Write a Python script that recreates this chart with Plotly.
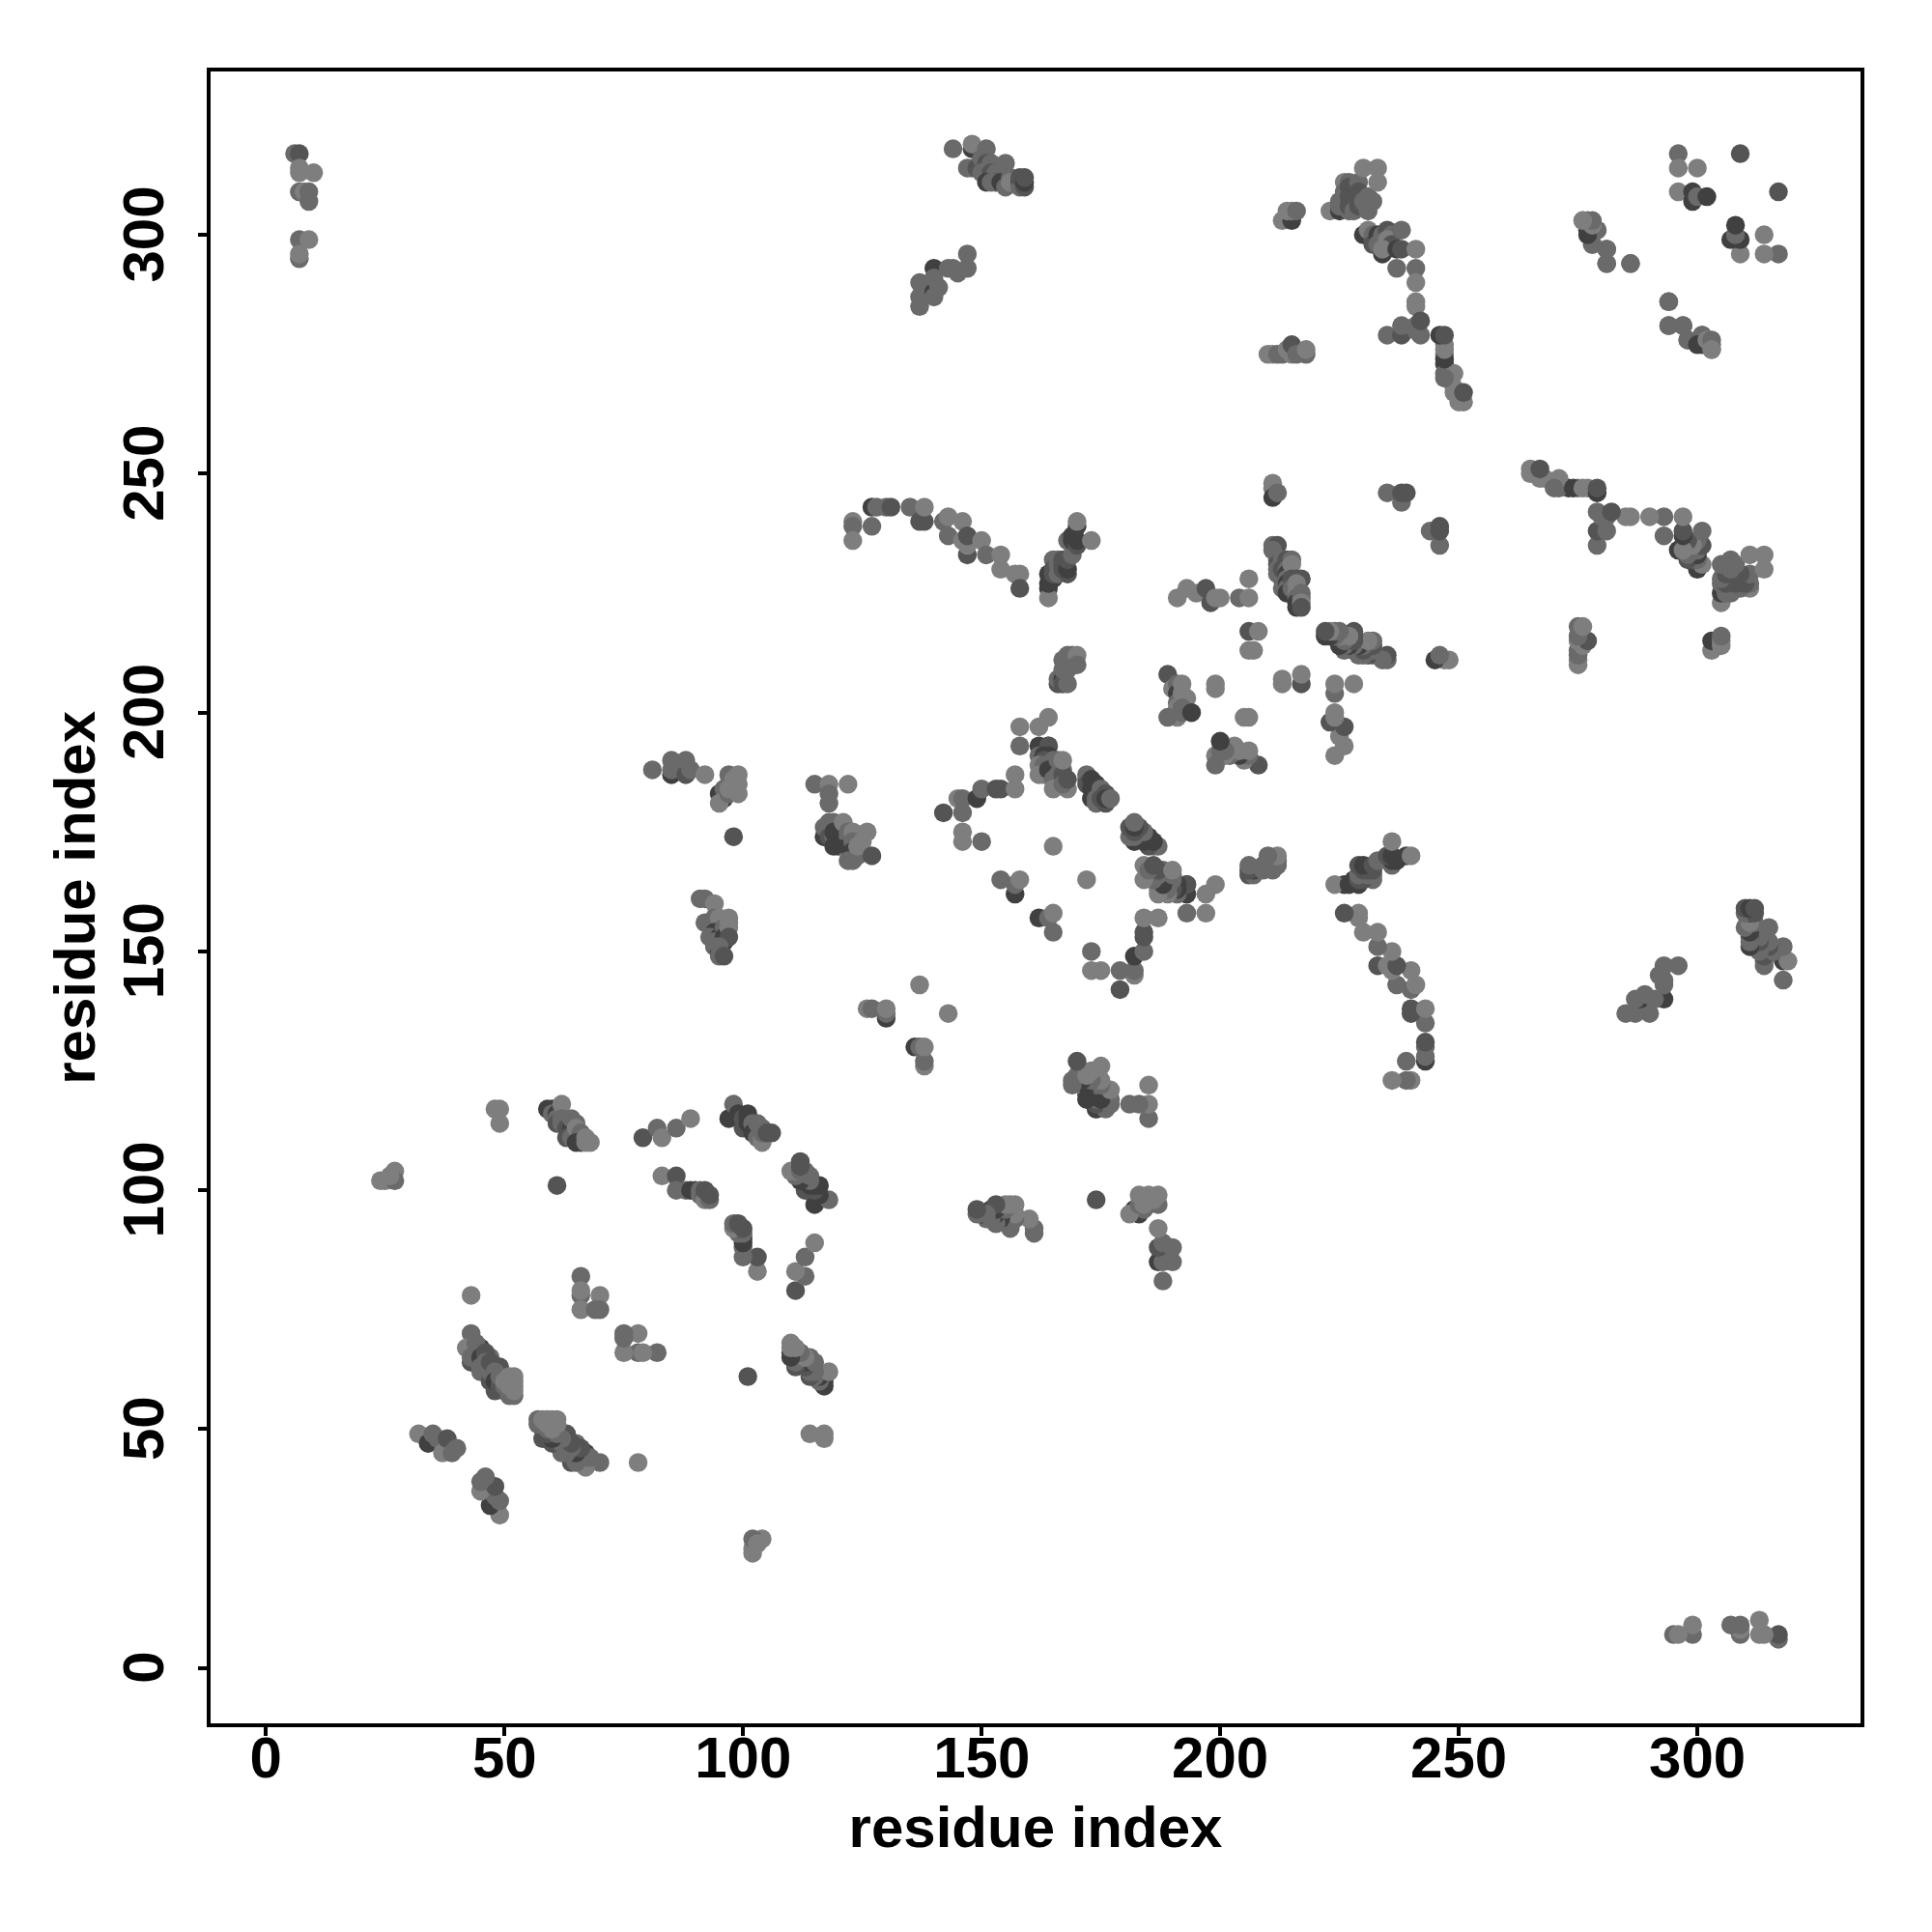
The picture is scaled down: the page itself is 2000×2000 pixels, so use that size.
import plotly.graph_objects as go

# Contacts: (residue i, residue j, grey level), i < j. The map is symmetric.
L, M, D, K = 126, 106, 84, 64

contacts_nterm = [
    (6,317,M),(7,317,D),(7,313,L),(7,314,L),(10,313,L),(7,309,M),(8,309,L),(9,307,M),(9,309,M),
    (7,299,M),(9,299,L),(7,295,M),(7,296,L),
    (24,102,L),(25,102,L),(27,104,L),(27,102,M),(26,103,L),
    (32,49,L),(34,47,K),(35,49,M),(36,48,M),(37,45,L),(38,48,D),(39,45,M),(40,46,M),
    (43,70,M),(42,67,L),(45,67,K),(44,66,M),(47,65,M),(43,64,D),(45,62,M),(49,63,D),(47,60,D),(48,58,D),
    (43,65,M),(44,68,M),(45,65,K),(45,63,M),(46,66,D),(46,64,M),(47,62,M),(47,64,D),(48,62,M),(48,60,K),
    (49,59,D),(49,61,M),(50,58,D),(50,59,M),(51,57,M),(52,57,M),(51,58,M),(52,58,L),(52,59,L),(51,60,L),
    (52,60,L),(50,60,L),(51,61,L),(52,61,L),(51,59,L),
    (43,78,L),(48,117,L),(49,117,L),(49,114,L),
    (59,117,K),(60,117,K),(60,116,M),(61,116,K),(61,115,M),(62,118,L),(61,114,D),(62,115,M),(62,114,M),
    (63,113,D),(64,113,K),(64,115,M),(63,111,D),(64,111,M),(65,114,M),(65,113,L),(66,112,M),(66,111,M),
    (65,110,K),(66,110,K),(67,111,L),(67,110,L),(68,110,L),(61,101,D),
    (66,82,M),(66,78,M),(66,79,L),(70,78,L),(66,75,L),(69,75,M),(70,75,M),
]
contacts_mid_a = [
    (79,111,D),(82,113,M),(83,111,L),(86,113,M),(89,115,L),
    (83,103,L),(86,103,D),(86,100,M),(88,100,M),(89,100,K),(90,100,K),(91,100,M),(91,99,M),(92,99,D),
    (92,98,L),(92,100,D),(93,98,M),(93,99,D),
    (81,188,M),(85,187,K),(85,190,M),(85,188,M),(88,187,D),(88,190,M),(89,188,M),(92,187,L),
    (95,183,K),(96,183,K),(96,182,K),(96,184,M),(95,181,L),(97,187,M),(97,185,M),(97,183,M),(97,184,L),
    (98,186,L),(98,184,L),(99,187,L),(99,185,L),(99,183,L),
    (98,174,D),
    (91,161,M),(92,161,M),(94,160,L),(92,156,M),(94,157,M),(95,157,L),(94,154,K),(93,153,M),(95,153,K),
    (96,155,M),(94,152,M),(96,153,K),(96,152,K),(97,157,L),(97,156,L),(97,155,L),(97,153,D),(94,151,M),
    (95,150,K),(95,151,M),(95,149,M),(96,149,D),
    (97,115,K),(98,118,M),(99,116,K),(99,115,K),(100,115,D),(100,113,D),(101,116,K),(101,115,K),(101,114,K),
    (102,114,M),(102,112,K),(103,113,K),(103,111,M),(104,110,L),(104,111,L),(103,114,M),(104,113,M),
    (104,112,M),(105,112,D),(106,112,D),
]
contacts_mid_b = [
    (115,185,M),(118,185,L),(122,185,L),(118,183,M),(118,181,M),
    (117,174,L),(117,174,K),(117,176,M),(118,174,D),(118,177,M),(119,177,M),(119,174,M),(119,175,K),
    (120,175,K),(120,172,K),(121,172,M),(121,173,K),(121,177,L),(122,174,M),(122,172,K),(122,175,M),
    (123,175,L),(123,173,M),(123,170,K),(123,171,K),(122,169,M),(123,169,M),(124,170,M),(125,171,M),
    (124,172,L),(125,173,L),(126,175,L),(127,170,D),(119,172,K),
    (126,138,L),(127,138,M),(130,136,K),(130,137,M),(130,138,L),(137,143,L),
    (123,240,L),(123,239,M),(123,236,L),(127,239,M),(127,243,K),(128,243,M),(130,243,M),(131,243,D),
    (135,243,M),(137,240,D),(138,240,D),(138,243,L),(142,240,M),(143,241,L),(143,237,M),(146,240,L),
    (147,233,D),(147,235,L),(146,236,L),(147,237,D),(150,236,L),(151,233,M),(154,233,L),(154,230,L),
    (157,229,L),(158,229,L),(158,226,D),
    (137,290,M),(137,287,M),(137,285,M),(140,293,K),(140,288,K),(140,291,M),(140,287,M),(141,289,M),
    (143,293,M),(144,293,M),(145,292,M),(147,293,M),(147,296,M),
    (144,318,M),(148,318,K),(148,319,L),(151,318,M),(147,314,M),(148,314,M),(149,314,D),(150,316,M),
    (151,315,D),(152,315,M),(155,315,M),(150,313,M),(152,313,D),(153,313,M),(153,311,D),
    (151,311,K),(152,311,M),(154,311,K),(155,310,M),(156,312,M),(156,311,L),(157,311,L),(158,311,K),
    (158,310,M),(158,312,D),(159,310,D),(159,311,K),(159,312,D),
]
contacts_mid_c = [
    (142,179,D),(145,182,L),(146,182,M),(146,179,M),(149,182,K),(150,184,M),(153,184,D),(154,184,D),
    (157,184,L),(157,187,L),(146,175,L),(146,173,L),(150,173,M),
    (154,165,M),(157,162,K),(157,164,M),(158,165,L),(165,172,L),
    (158,197,L),(158,193,M),(162,197,L),(164,199,L),(162,193,K),(162,191,M),(164,193,K),(164,193,D),
    (163,191,K),(164,191,K),(163,190,D),(162,189,L),(163,189,M),(165,190,M),(162,187,L),(163,187,L),
    (164,189,M),(164,188,K),(165,188,K),(166,188,K),(166,186,K),(166,187,M),(167,188,M),(165,186,M),
    (165,184,L),(168,184,L),(166,190,M),(167,187,D),(167,185,M),(167,190,L),(168,186,D),
    (172,187,M),(172,186,M),(172,185,D),(173,186,K),(173,184,K),(174,185,K),(174,183,K),(173,182,K),
    (174,182,M),(175,184,M),(174,181,M),(175,182,D),(176,183,D),(176,181,D),(176,182,K),(177,182,M),
    (164,226,K),(164,224,L),(164,227,K),(164,229,K),(165,228,K),(165,232,M),(165,230,D),(165,229,D),
    (166,232,M),(166,231,M),(166,229,M),(167,231,D),(167,230,D),(167,232,D),(168,229,D),(168,230,K),
    (168,232,D),(169,233,M),(168,236,M),(169,235,M),(169,236,K),(169,237,K),(170,235,D),(170,236,K),
    (170,239,K),(170,240,L),(173,236,L),
    (166,206,D),(166,207,M),(167,207,K),(167,206,D),(168,206,M),(168,209,M),(167,209,M),(167,211,M),
    (168,212,M),(169,212,M),(170,212,L),(170,210,M),
    (189,208,D),(190,205,L),(191,206,M),(191,204,K),(191,202,M),(192,204,L),(192,206,L),(193,203,L),
    (191,201,L),(191,199,L),(192,201,M),(192,200,M),(194,200,K),
    (199,206,L),(199,205,L),(189,199,M),
]
contacts_cterm = [
    (191,224,L),(193,226,L),(195,225,L),(197,226,D),(198,223,D),(199,224,L),(200,224,L),
    (204,224,M),(206,224,L),(206,228,L),(206,217,D),(208,217,L),(206,213,L),(207,213,L),
    (211,248,L),(211,247,L),(211,245,K),(212,246,M),(235,246,M),(238,244,M),(238,246,D),(239,246,D),
    (211,235,M),(212,235,D),(211,234,M),(212,232,M),(212,231,D),(212,230,M),(213,232,M),(213,229,M),
    (213,228,K),(212,229,M),(213,230,D),(213,226,M),(214,232,D),(214,230,M),(214,229,K),(214,228,M),
    (214,227,K),(214,226,M),(214,225,K),(215,232,M),(215,231,L),(215,228,D),(215,226,M),
    (216,228,D),(217,228,D),(216,227,L),(216,225,L),(216,224,M),(216,223,K),(216,222,K),(217,225,M),
    (217,224,M),(217,223,L),(217,222,D),
    (210,275,L),(211,275,L),(212,275,M),(213,275,M),(214,276,L),(215,275,L),(215,277,D),(216,275,M),
    (218,275,M),(218,276,L),
    (213,303,L),(215,303,K),(214,305,L),(215,305,L),(216,305,M),
    (223,305,L),(225,305,K),(225,307,M),(225,306,M),(227,305,M),(226,311,L),
    (226,309,M),(227,311,M),(227,310,D),(227,308,D),(227,306,D),(228,310,D),(228,308,D),
    (228,305,M),(229,311,M),(229,309,D),(229,307,D),(229,306,D),(230,307,M),(232,307,M),
    (231,305,M),(231,308,M),(230,314,L),(233,314,L),(233,311,L),
    (230,300,K),(231,301,L),(232,299,D),(232,300,M),(232,298,D),(233,300,K),(233,298,M),(234,300,M),
    (235,301,D),(236,300,M),(235,299,L),(235,297,M),(236,298,D),(238,301,M),(234,296,K),(234,297,L),
    (237,297,K),(238,297,D),(241,297,L),(237,293,M),(241,293,M),(241,290,L),(241,286,L),(241,285,L),
    (235,279,M),(238,279,D),(238,281,M),(242,279,M),(241,281,M),(241,280,M),(242,282,D),
    (247,277,L),(247,275,L),(247,273,K),(247,271,M),(249,271,L),(249,268,L),
    (250,265,L),(251,265,L),(249,267,L),(248,270,L),(247,270,M),(251,267,D),
    (247,274,K),(247,276,L),(246,279,K),(247,279,D),
]
contacts_far = [
    (276,303,L),(277,303,M),(277,301,K),(279,301,M),(278,298,M),(281,297,M),(281,294,M),(286,294,M),
    (294,281,M),(294,286,M),(297,281,M),(298,278,M),(301,279,M),(300,277,K),(302,278,L),(303,278,M),(303,276,L),
    (296,317,M),(296,314,L),(300,314,L),(296,309,L),(299,307,K),(299,309,K),(300,308,M),(302,308,K),(309,317,D),
]

tick_values = [0, 50, 100, 150, 200, 250, 300]
tick_labels = ["0", "50", "100", "150", "200", "250", "300"]
axis_label = "residue index"

all_contacts = contacts_nterm + contacts_mid_a + contacts_mid_b + contacts_mid_c + contacts_cterm + contacts_far
xs, ys, cols = [], [], []
for i, j, g in all_contacts:
    col = f"rgb({g},{g},{g})"
    xs += [i, j]
    ys += [j, i]
    cols += [col, col]

fig = go.Figure(go.Scatter(x=xs, y=ys, mode="markers",
                           marker=dict(size=19.5, color=cols, line=dict(width=0)),
                           hoverinfo="skip", showlegend=False))
axis = dict(range=[-11.6, 334.2], tickmode="array", tickvals=tick_values, ticks="outside", ticklen=9,
            tickwidth=3.5, tickcolor="black", showline=True, linewidth=3.5, linecolor="black", mirror=True,
            showgrid=False, zeroline=False,
            tickfont=dict(family="Liberation Sans", size=60, color="black", weight="bold"))
title_font = dict(family="Liberation Sans", size=60, color="black", weight="bold")
fig.update_xaxes(**axis, ticktext=tick_labels, ticklabelstandoff=-29,
                 title=dict(text=axis_label, font=title_font, standoff=19))
# A trailing no-break space recentres the rotated labels on their ticks.
fig.update_yaxes(**axis, ticktext=[t + "\u00a0" for t in tick_labels], tickangle=-90, ticklabelstandoff=12)
fig.update_layout(width=2000, height=2000, autosize=False, plot_bgcolor="white", paper_bgcolor="white",
                  margin=dict(l=210, r=82, t=66, b=224, autoexpand=False),
                  annotations=[dict(text=axis_label, font=title_font, textangle=-90, showarrow=False,
                                    xref="paper", yref="paper", x=-0.0827, y=0.5,
                                    xanchor="center", yanchor="middle")])
fig.write_html("out.html")
